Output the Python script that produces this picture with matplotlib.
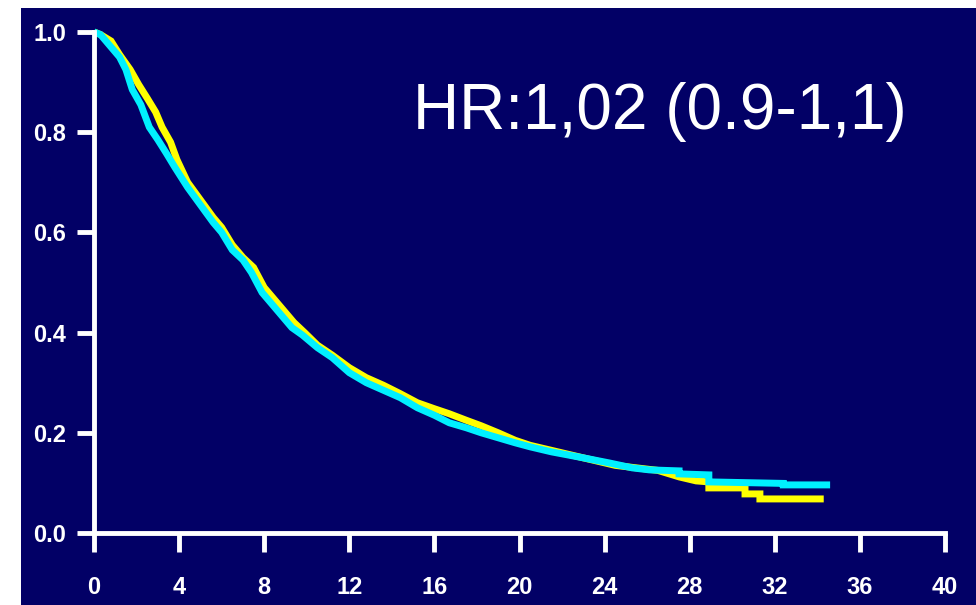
import matplotlib.pyplot as plt
from matplotlib.patches import Rectangle

# Survival curves (months, survival probability).
# Early part is dense with events, so points are joined directly;
# the sparse tail keeps its visible steps (repeated times).
yellow_t = [0, 0.3, 0.8, 1.2, 1.7, 2.1, 2.5, 2.9, 3.2, 3.6, 3.9, 4.4, 5.0, 5.6, 6.0,
            6.5, 7.0, 7.5, 8.0, 8.4, 8.9, 9.4, 9.9, 10.5, 11.2, 12.0, 12.8, 13.6,
            14.4, 15.2, 16.0, 16.7, 17.5, 18.2, 19.0, 19.8, 20.5, 21.5, 22.5, 23.5,
            24.5, 25.5, 26.5, 27.5, 28.3, 28.9, 28.9, 30.6, 30.6, 31.3, 31.3, 34.3]
yellow_s = [1.0, 0.995, 0.982, 0.955, 0.925, 0.895, 0.868, 0.84, 0.81, 0.78, 0.745,
            0.70, 0.665, 0.63, 0.61, 0.575, 0.55, 0.53, 0.49, 0.47, 0.445, 0.42,
            0.40, 0.375, 0.355, 0.33, 0.31, 0.295, 0.278, 0.26, 0.248, 0.238,
            0.225, 0.214, 0.20, 0.185, 0.175, 0.165, 0.155, 0.145, 0.135, 0.13,
            0.125, 0.112, 0.104, 0.102, 0.09, 0.09, 0.078, 0.078, 0.068, 0.068]

cyan_t = [0, 0.3, 1.0, 1.2, 1.5, 1.8, 2.2, 2.6, 3.0, 3.4, 3.8, 4.4, 5.0, 5.6, 6.0,
          6.5, 7.0, 7.4, 7.9, 8.3, 8.8, 9.3, 9.8, 10.5, 11.2, 12.0, 12.8, 13.6,
          14.4, 15.2, 16.0, 16.7, 17.5, 18.2, 19.0, 19.8, 20.5, 21.5, 23.0, 24.2,
          25.3, 26.1, 27.5, 27.5, 28.9, 28.9, 32.4, 32.4, 34.6]
cyan_s = [1.0, 0.995, 0.96, 0.95, 0.925, 0.885, 0.855, 0.81, 0.785, 0.758, 0.73,
          0.69, 0.655, 0.62, 0.60, 0.565, 0.545, 0.52, 0.48, 0.46, 0.435, 0.41,
          0.395, 0.37, 0.35, 0.32, 0.30, 0.285, 0.27, 0.25, 0.235, 0.22, 0.21,
          0.20, 0.19, 0.18, 0.172, 0.162, 0.15, 0.14, 0.13, 0.126, 0.124, 0.118,
          0.116, 0.102, 0.099, 0.096, 0.096]

x_ticks = [0, 4, 8, 12, 16, 20, 24, 28, 32, 36, 40]
y_ticks = [0.0, 0.2, 0.4, 0.6, 0.8, 1.0]
hr_label = "HR:1,02 (0.9-1,1)"

NAVY = '#020066'

fig = plt.figure(figsize=(9.76, 6.05), dpi=100, facecolor='white')
# navy slide background (white margin at left and top)
bg = Rectangle((21 / 976, 0), 1, (605 - 8) / 605, transform=fig.transFigure,
               facecolor=NAVY, edgecolor='none', zorder=-10)
fig.add_artist(bg)

ax = fig.add_axes([94 / 976, (605 - 533) / 605, 851 / 976, 501 / 605])
ax.set_facecolor('none')

ax.plot(yellow_t, yellow_s, color='#ffff00', lw=5, clip_on=False,
        solid_joinstyle='miter', solid_capstyle='butt')
ax.plot(cyan_t, cyan_s, color='#00f0ff', lw=5, clip_on=False,
        solid_joinstyle='miter', solid_capstyle='butt')

ax.set_xlim(0, 40)
ax.set_ylim(0, 1)
for side in ['top', 'right']:
    ax.spines[side].set_visible(False)
for side in ['left', 'bottom']:
    ax.spines[side].set_color('white')
    ax.spines[side].set_linewidth(3.5)

ax.set_xticks(x_ticks)
ax.set_xticklabels([str(v) for v in x_ticks])
ax.set_yticks(y_ticks)
ax.set_yticklabels([f'{v:.1f}' for v in y_ticks])
ax.tick_params(axis='both', colors='white', width=3.5, direction='out')
ax.tick_params(axis='x', length=14, pad=17)
ax.tick_params(axis='y', length=12, pad=8)
for lbl in ax.get_xticklabels() + ax.get_yticklabels():
    lbl.set_fontweight('bold')
    lbl.set_fontsize(17)
    lbl.set_family('Liberation Sans')
    lbl.set_color('white')

fig.text(413 / 976, (605 - 129) / 605, hr_label, color='white', fontsize=46,
         family='Liberation Sans', ha='left', va='baseline')

fig.savefig('out.png', dpi=100, facecolor='white')
